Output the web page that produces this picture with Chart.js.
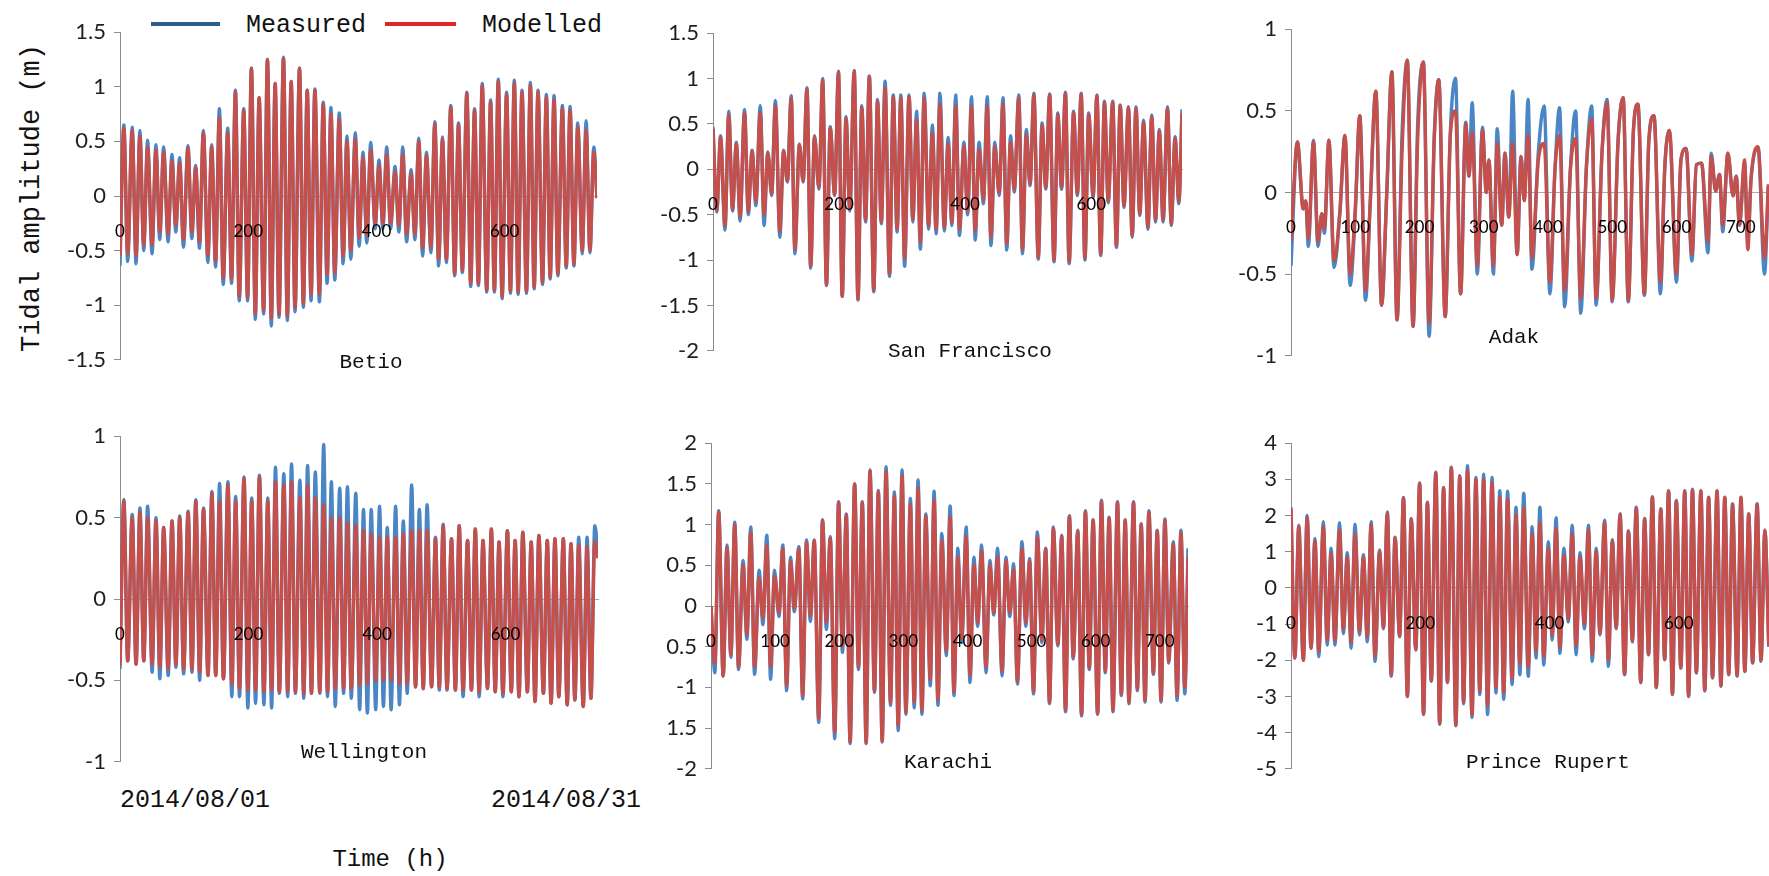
<!DOCTYPE html>
<html>
<head>
<meta charset="utf-8">
<title>Tidal amplitude, measured vs modelled</title>
<script src="https://cdn.jsdelivr.net/npm/chart.js@4.4.1/dist/chart.umd.min.js"></script>
<style>
  html, body { margin: 0; padding: 0; background: #fff; }
  body { width: 1769px; height: 876px; position: relative; overflow: hidden; }
  canvas { position: absolute; }
  .txt { position: absolute; font-family: 'Liberation Mono', 'DejaVu Sans Mono', monospace; color: #111;
         white-space: nowrap; line-height: 1; transform: translate(-50%, -50%); }
  .key { position: absolute; height: 4px; }
</style>
</head>
<body>

<div class="key" style="left:151px; top:22px; width:69px; background:#2E5C8E;"></div>
<div class="txt" style="left:306px; top:25px; font-size:25px;">Measured</div>
<div class="key" style="left:385px; top:22px; width:71px; background:#E0262B;"></div>
<div class="txt" style="left:542px; top:25px; font-size:25px;">Modelled</div>

<div class="txt" style="left:32px; top:198px; font-size:27px; transform:translate(-50%,-50%) rotate(-90deg);">Tidal amplitude (m)</div>

<div class="txt" style="left:195px; top:800px; font-size:25px;">2014/08/01</div>
<div class="txt" style="left:566px; top:800px; font-size:25px;">2014/08/31</div>
<div class="txt" style="left:390px; top:860px; font-size:24px;">Time (h)</div>

<script>
// Hours of successive high / low waters (shared by the semidiurnal stations)
const tideHours = [
  0,6,12,19,25,31,37,43,50,56,
  62,68,75,81,87,93,99,106,112,118,
  124,130,137,143,149,155,161,168,174,180,
  186,193,199,205,211,217,224,230,236,242,
  248,255,261,267,273,280,286,292,298,304,
  311,317,323,329,335,342,348,354,360,367,
  373,379,385,391,398,404,410,416,422,429,
  435,441,447,454,460,466,472,478,485,491,
  497,503,509,516,522,528,534,541,547,553,
  559,565,572,578,584,590,596,603,609,615,
  621,627,634,640,646,652,659,665,671,677,
  683,690,696,702,708,714,721,727,733,739,
  744
];

// Betio (m)
const betioMeasured = [
  -0.64,0.65, -0.6,0.63, -0.62,0.6, -0.5,0.51, -0.53,0.47, -0.4,0.45, -0.42,0.38, -0.33,0.35, -0.47,0.46, -0.39,0.28,
  -0.48,0.6, -0.61,0.47, -0.65,0.8, -0.81,0.62, -0.8,0.97, -0.96,0.8, -0.96,1.17, -1.13,0.9, -1.08,1.25, -1.19,1.03,
  -1.11,1.27, -1.14,1.05, -1.06,1.17, -1.02,0.97, -0.96,0.98, -0.97,0.86, -0.8,0.81, -0.77,0.76, -0.62,0.55, -0.58,0.58,
  -0.46,0.4, -0.43,0.49, -0.3,0.33, -0.3,0.45, -0.3,0.27, -0.33,0.45, -0.42,0.24, -0.4,0.53, -0.55,0.4, -0.52,0.68,
  -0.64,0.54, -0.61,0.83, -0.73,0.67, -0.7,0.95, -0.83,0.8, -0.82,1.03, -0.88,0.88, -0.88,1.07, -0.94,0.95, -0.89,1.06,
  -0.9,0.97, -0.89,1.04, -0.85,0.97, -0.81,0.93, -0.76,0.92, -0.73,0.83, -0.66,0.82, -0.64,0.67, -0.53,0.69, -0.52,0.45,
  -0.02
];
const betioModelled = [
  -0.55,0.62, -0.53,0.6, -0.55,0.55, -0.45,0.45, -0.45,0.42, -0.33,0.4, -0.35,0.32, -0.27,0.3, -0.4,0.44, -0.33,0.26,
  -0.42,0.58, -0.55,0.45, -0.6,0.72, -0.75,0.58, -0.76,0.95, -0.92,0.78, -0.93,1.17, -1.08,0.9, -1.05,1.25, -1.12,1.03,
  -1.08,1.26, -1.1,1.05, -1.02,1.17, -0.98,0.97, -0.9,0.97, -0.9,0.84, -0.72,0.75, -0.7,0.7, -0.55,0.5, -0.5,0.52,
  -0.38,0.35, -0.36,0.42, -0.25,0.28, -0.25,0.38, -0.25,0.22, -0.27,0.38, -0.35,0.2, -0.35,0.5, -0.48,0.37, -0.47,0.66,
  -0.58,0.52, -0.58,0.81, -0.71,0.65, -0.68,0.94, -0.8,0.78, -0.8,1.01, -0.86,0.86, -0.86,1.05, -0.92,0.93, -0.87,1.03,
  -0.88,0.95, -0.87,1.01, -0.83,0.95, -0.79,0.9, -0.74,0.88, -0.71,0.8, -0.64,0.78, -0.62,0.63, -0.5,0.6, -0.5,0.4,
  -0.02
];

// San Francisco (m)
const sanFranciscoMeasured = [
  0.47,-0.47,0.37,-0.67,0.64,-0.46,0.3,-0.57,0.66,-0.5,
  0.21,-0.4,0.7,-0.62,0.19,-0.29,0.76,-0.75,0.21,-0.14,
  0.81,-0.93,0.28,-0.14,0.9,-1.09,0.37,-0.22,1.0,-1.28,
  0.47,-0.29,1.08,-1.4,0.58,-0.46,1.09,-1.44,0.7,-0.58,
  1.03,-1.35,0.77,-0.6,0.97,-1.18,0.82,-0.69,0.82,-1.07,
  0.82,-0.58,0.64,-0.88,0.84,-0.66,0.49,-0.71,0.84,-0.68,
  0.35,-0.62,0.82,-0.73,0.3,-0.5,0.8,-0.78,0.3,-0.38,
  0.8,-0.84,0.3,-0.29,0.79,-0.89,0.37,-0.25,0.82,-0.93,
  0.44,-0.18,0.84,-0.99,0.51,-0.22,0.83,-1.02,0.62,-0.22,
  0.85,-1.04,0.64,-0.29,0.84,-1.0,0.62,-0.31,0.82,-0.95,
  0.75,-0.37,0.75,-0.86,0.71,-0.42,0.69,-0.75,0.69,-0.51,
  0.54,-0.66,0.6,-0.58,0.44,-0.58,0.69,-0.62,0.36,-0.38,
  0.66
];
const sanFranciscoModelled = [
  0.45,-0.45,0.35,-0.62,0.6,-0.44,0.28,-0.52,0.62,-0.46,
  0.2,-0.35,0.62,-0.5,0.18,-0.27,0.7,-0.68,0.2,-0.13,
  0.78,-0.88,0.27,-0.13,0.88,-1.07,0.36,-0.2,0.98,-1.27,
  0.45,-0.28,1.07,-1.4,0.56,-0.44,1.08,-1.43,0.68,-0.56,
  1.02,-1.33,0.75,-0.58,0.9,-1.15,0.8,-0.66,0.78,-0.98,
  0.8,-0.55,0.55,-0.8,0.78,-0.62,0.4,-0.66,0.72,-0.64,
  0.28,-0.58,0.7,-0.66,0.25,-0.46,0.7,-0.68,0.22,-0.34,
  0.7,-0.75,0.25,-0.26,0.72,-0.82,0.3,-0.22,0.78,-0.88,
  0.38,-0.16,0.82,-0.97,0.48,-0.2,0.82,-1.0,0.6,-0.2,
  0.84,-1.02,0.62,-0.27,0.83,-0.98,0.6,-0.29,0.81,-0.93,
  0.73,-0.35,0.74,-0.84,0.7,-0.4,0.68,-0.73,0.67,-0.49,
  0.52,-0.64,0.58,-0.56,0.42,-0.56,0.67,-0.6,0.34,-0.35,
  0.62
];

// Adak (m) - mixed, mainly diurnal, so its turning points have their own hours
const adakHours = [
  0,10,19,23,27,35,42,48,52,59,
  67,76,84,92,100,107,116,123,132,141,
  149,157,165,173,181,190,197,206,215,223,
  230,240,248,256,264,272,277,282,290,298,
  304,308,315,321,328,333,339,345,352,358,
  363,369,375,385,394,403,411,418,426,435,
  443,451,460,468,475,484,492,500,509,517,
  525,533,540,550,557,565,575,582,589,600,
  607,615,624,631,639,649,654,661,667,672,
  680,688,693,698,706,711,716,727,737,743
];
const adakMeasured = [
  -0.45,0.31,-0.1,-0.06,-0.33,0.32,-0.33,-0.13,-0.25,0.32,
  -0.46,-0.13,0.35,-0.57,-0.13,0.47,-0.66,-0.1,0.62,-0.69,
  -0.02,0.74,-0.78,0.38,0.81,-0.82,0.4,0.8,-0.88,0.35,
  0.69,-0.76,0.37,0.7,-0.62,0.43,0.1,0.55,-0.5,0.4,
  0.0,0.2,-0.5,0.39,-0.2,0.24,-0.15,0.62,-0.38,0.22,
  -0.05,0.57,-0.47,0.25,0.53,-0.62,0.15,0.52,-0.7,0.15,
  0.5,-0.74,0.17,0.53,-0.69,0.24,0.57,-0.67,0.31,0.58,
  -0.67,0.38,0.54,-0.63,0.32,0.47,-0.62,0.17,0.38,-0.55,
  0.2,0.27,-0.42,0.17,0.18,-0.37,0.24,0.01,0.11,-0.24,
  0.24,-0.02,0.1,-0.2,0.17,-0.3,0.08,0.27,-0.5,0.04
];
const adakModelled = [
  -0.3,0.31,-0.1,-0.05,-0.28,0.31,-0.3,-0.13,-0.22,0.32,
  -0.42,-0.12,0.35,-0.5,-0.1,0.47,-0.6,-0.08,0.62,-0.69,
  0.0,0.74,-0.78,0.27,0.81,-0.82,0.31,0.8,-0.8,0.33,
  0.69,-0.76,0.35,0.5,-0.62,0.42,0.1,0.37,-0.45,0.38,
  0.0,0.2,-0.45,0.3,-0.2,0.24,-0.15,0.3,-0.38,0.22,
  -0.05,0.35,-0.4,0.2,0.3,-0.55,0.15,0.35,-0.6,0.15,
  0.33,-0.65,0.17,0.45,-0.65,0.24,0.55,-0.66,0.31,0.58,
  -0.66,0.38,0.54,-0.62,0.32,0.47,-0.55,0.17,0.38,-0.5,
  0.2,0.27,-0.38,0.17,0.18,-0.3,0.22,0.01,0.11,-0.2,
  0.24,-0.02,0.1,-0.2,0.2,-0.35,0.08,0.28,-0.4,0.05
];

// Wellington (m)
const wellingtonMeasured = [
  -0.43,0.61, -0.38,0.52, -0.4,0.56, -0.38,0.57, -0.45,0.5, -0.49,0.44, -0.47,0.48, -0.42,0.51, -0.46,0.54, -0.45,0.61,
  -0.5,0.56, -0.47,0.66, -0.47,0.71, -0.49,0.72, -0.6,0.63, -0.6,0.75, -0.67,0.62, -0.64,0.76, -0.65,0.62, -0.67,0.81,
  -0.58,0.77, -0.6,0.83, -0.58,0.73, -0.61,0.82, -0.58,0.78, -0.58,0.95, -0.6,0.72, -0.66,0.68, -0.58,0.69, -0.61,0.65,
  -0.68,0.55, -0.7,0.55, -0.68,0.57, -0.66,0.44, -0.68,0.57, -0.65,0.48, -0.58,0.7, -0.54,0.55, -0.55,0.58, -0.54,0.38,
  -0.56,0.46, -0.56,0.37, -0.56,0.45, -0.6,0.36, -0.56,0.43, -0.6,0.36, -0.55,0.43, -0.57,0.35, -0.6,0.42, -0.57,0.36,
  -0.6,0.41, -0.57,0.35, -0.63,0.39, -0.58,0.36, -0.64,0.37, -0.6,0.37, -0.65,0.34, -0.62,0.38, -0.66,0.38, -0.61,0.45,
  0.3
];
const wellingtonModelled = [
  -0.41,0.6, -0.38,0.5, -0.4,0.53, -0.38,0.5, -0.4,0.48, -0.42,0.44, -0.43,0.48, -0.4,0.5, -0.43,0.53, -0.43,0.6,
  -0.45,0.55, -0.47,0.65, -0.47,0.6, -0.49,0.7, -0.52,0.6, -0.55,0.74, -0.56,0.6, -0.56,0.75, -0.57,0.6, -0.56,0.72,
  -0.57,0.7, -0.57,0.72, -0.57,0.62, -0.58,0.7, -0.58,0.62, -0.57,0.58, -0.57,0.5, -0.55,0.5, -0.55,0.47, -0.55,0.45,
  -0.53,0.42, -0.52,0.4, -0.5,0.38, -0.5,0.38, -0.5,0.38, -0.52,0.4, -0.52,0.42, -0.54,0.42, -0.55,0.42, -0.54,0.37,
  -0.54,0.45, -0.55,0.37, -0.56,0.45, -0.56,0.36, -0.56,0.43, -0.57,0.36, -0.55,0.43, -0.57,0.35, -0.58,0.42, -0.57,0.36,
  -0.6,0.41, -0.57,0.35, -0.63,0.39, -0.58,0.36, -0.64,0.37, -0.6,0.37, -0.65,0.34, -0.62,0.33, -0.66,0.32, -0.61,0.35,
  0.25
];

// Karachi (m)
const karachiMeasured = [
  0.0,
  -0.82,1.17, -0.86,0.75, -0.63,1.03, -0.78,0.56, -0.41,0.97, -0.84,0.44, -0.23,0.87, -0.9,0.44, -0.13,0.75, -1.04,0.6,
  -0.07,0.73, -1.14,0.81, -0.19,0.81, -1.43,1.06, -0.29,0.85, -1.63,1.28, -0.57,1.13, -1.69,1.5, -0.78,1.28, -1.69,1.67,
  -1.06,1.42, -1.67,1.71, -1.22,1.4, -1.53,1.67, -1.33,1.32, -1.25,1.55, -1.33,1.13, -0.98,1.41, -1.22,0.89, -0.61,1.23,
  -1.1,0.71, -0.45,0.97, -0.94,0.6, -0.25,0.75, -0.82,0.56, -0.11,0.71, -0.86,0.6, -0.13,0.52, -0.96,0.79, -0.25,0.58,
  -1.08,0.91, -0.45,0.71, -1.2,0.97, -0.49,0.87, -1.3,1.11, -0.65,0.93, -1.35,1.17, -0.78,1.06, -1.33,1.3, -0.82,1.09,
  -1.3,1.28, -1.1,1.06, -1.2,1.28, -1.04,1.01, -1.18,1.17, -0.84,0.93, -1.18,1.07, -0.7,0.79, -1.16,0.93, -1.08,0.71
];
const karachiModelled = [
  0.0,
  -0.7,1.15, -0.86,0.72, -0.6,1.0, -0.75,0.5, -0.35,0.9, -0.75,0.35, -0.15,0.75, -0.75,0.37, -0.08,0.7, -0.98,0.55,
  -0.03,0.7, -1.1,0.78, -0.12,0.8, -1.38,1.05, -0.2,0.83, -1.55,1.27, -0.5,1.12, -1.67,1.5, -0.75,1.27, -1.68,1.66,
  -1.04,1.4, -1.66,1.65, -1.18,1.35, -1.47,1.6, -1.3,1.25, -1.18,1.45, -1.28,1.1, -0.9,1.3, -1.15,0.8, -0.55,1.1,
  -1.05,0.6, -0.4,0.85, -0.85,0.5, -0.2,0.68, -0.75,0.5, -0.08,0.6, -0.8,0.55, -0.08,0.45, -0.93,0.7, -0.2,0.55,
  -1.05,0.85, -0.42,0.7, -1.18,0.95, -0.47,0.85, -1.28,1.1, -0.63,0.92, -1.33,1.16, -0.76,1.05, -1.32,1.28, -0.8,1.08,
  -1.28,1.27, -1.08,1.05, -1.18,1.27, -1.02,1.0, -1.16,1.15, -0.82,0.92, -1.16,1.05, -0.68,0.76, -1.1,0.9, -1.0,0.6
];

// Prince Rupert (m)
const princeRupertMeasured = [
  2.23,-1.94, 1.73,-2.0, 2.0,-1.67, 1.37,-1.9, 1.83,-1.58, 1.1,-1.58, 1.8,-1.26, 0.97,-1.67, 1.76,-1.3, 0.92,-1.49,
  1.83,-2.03, 1.05,-1.13, 2.1,-2.44, 1.4,-1.35, 2.5,-3.0, 1.92,-1.72, 2.9,-3.5, 2.37,-2.58, 3.2,-3.77, 2.78,-2.62,
  3.34,-3.81, 3.1,-3.2, 3.38,-3.58, 3.05,-2.95, 3.14,-3.5, 3.05,-2.9, 2.69,-3.08, 2.67,-2.67, 2.23,-2.4, 2.62,-2.44,
  1.69,-1.94, 2.23,-2.13, 1.28,-1.44, 1.94,-1.81, 1.1,-0.94, 1.73,-1.85, 0.97,-1.13, 1.73,-2.03, 1.1,-1.3, 1.87,-2.17,
  1.33,-1.13, 2.05,-2.4, 1.58,-1.49, 2.23,-2.62, 1.92,-1.85, 2.52,-2.76, 2.19,-1.99, 2.69,-2.95, 2.42,-2.22, 2.69,-3.0,
  2.73,-2.35, 2.69,-2.85, 2.51,-2.49, 2.69,-2.72, 2.51,-2.4, 2.33,-2.44, 2.51,-2.31, 2.05,-2.08, 2.33,-2.03, 1.6,-1.63
];
const princeRupertModelled = [
  2.2,-1.94, 1.7,-2.0, 1.95,-1.67, 1.3,-1.75, 1.7,-1.45, 0.95,-1.45, 1.6,-1.15, 0.85,-1.5, 1.5,-1.2, 0.85,-1.35,
  1.75,-1.9, 1.0,-1.1, 2.05,-2.4, 1.38,-1.33, 2.48,-3.0, 1.9,-1.7, 2.88,-3.48, 2.35,-2.56, 3.18,-3.75, 2.76,-2.6,
  3.32,-3.8, 3.08,-3.15, 3.25,-3.5, 3.0,-2.85, 3.0,-3.25, 2.9,-2.75, 2.5,-2.9, 2.45,-2.5, 2.0,-2.1, 2.2,-2.2,
  1.5,-1.75, 1.8,-1.9, 1.1,-1.3, 1.65,-1.65, 0.9,-0.85, 1.5,-1.6, 0.85,-1.0, 1.6,-1.85, 1.0,-1.25, 1.8,-2.0,
  1.3,-1.1, 2.03,-2.38, 1.56,-1.47, 2.2,-2.6, 1.9,-1.83, 2.5,-2.74, 2.17,-1.97, 2.67,-2.93, 2.4,-2.2, 2.67,-2.98,
  2.7,-2.33, 2.67,-2.83, 2.5,-2.47, 2.67,-2.7, 2.5,-2.38, 2.3,-2.42, 2.5,-2.3, 2.03,-2.06, 2.3,-2.0, 1.58,-1.6
];

// Axis ticks and their printed labels (ascending)
const hourTicksWide = [0, 200, 400, 600];
const hourTicksFine = [0, 100, 200, 300, 400, 500, 600, 700];
const betioYTicks = [-1.5, -1, -0.5, 0, 0.5, 1, 1.5];
const betioYLabels = ['-1.5', '-1', '-0.5', '0', '0.5', '1', '1.5'];
const sanFranciscoYTicks = [-2, -1.5, -1, -0.5, 0, 0.5, 1, 1.5];
const sanFranciscoYLabels = ['-2', '-1.5', '-1', '-0.5', '0', '0.5', '1', '1.5'];
const adakYTicks = [-1, -0.5, 0, 0.5, 1];
const adakYLabels = ['-1', '-0.5', '0', '0.5', '1'];
const wellingtonYTicks = [-1, -0.5, 0, 0.5, 1];
const wellingtonYLabels = ['-1', '-0.5', '0', '0.5', '1'];
const karachiYTicks = [-2, -1.5, -1, -0.5, 0, 0.5, 1, 1.5, 2];
const karachiYLabels = ['-2', '1.5', '-1', '0.5', '0', '0.5', '1', '1.5', '2'];
const princeRupertYTicks = [-5, -4, -3, -2, -1, 0, 1, 2, 3, 4];
const princeRupertYLabels = ['-5', '-4', '-3', '-2', '-1', '0', '1', '2', '3', '4'];
const stationNames = ['Betio', 'San Francisco', 'Adak', 'Wellington', 'Karachi', 'Prince Rupert'];

// Page layout of each panel: x of hour 0, px per hour, y of top/bottom tick, name position
const layout = [
  { x0: 120,  pph: 0.641,  top: 30.7,  bottom: 360.7, nameX: 371,  nameY: 362 },
  { x0: 713,  pph: 0.630,  top: 32.0,  bottom: 352.4, nameX: 970,  nameY: 351 },
  { x0: 1291, pph: 0.643,  top: 28.0,  bottom: 357.0, nameX: 1514, nameY: 337 },
  { x0: 120,  pph: 0.642,  top: 434.7, bottom: 763.0, nameX: 364,  nameY: 752 },
  { x0: 711,  pph: 0.641,  top: 442.3, bottom: 770.0, nameX: 948,  nameY: 762 },
  { x0: 1291, pph: 0.6465, top: 442.3, bottom: 770.5, nameX: 1548, nameY: 762 }
];

const series = [
  { hours: tideHours, measured: betioMeasured, modelled: betioModelled, yTicks: betioYTicks, yLabels: betioYLabels, xTicks: hourTicksWide },
  { hours: tideHours, measured: sanFranciscoMeasured, modelled: sanFranciscoModelled, yTicks: sanFranciscoYTicks, yLabels: sanFranciscoYLabels, xTicks: hourTicksWide },
  { hours: adakHours, measured: adakMeasured, modelled: adakModelled, yTicks: adakYTicks, yLabels: adakYLabels, xTicks: hourTicksFine },
  { hours: tideHours, measured: wellingtonMeasured, modelled: wellingtonModelled, yTicks: wellingtonYTicks, yLabels: wellingtonYLabels, xTicks: hourTicksWide },
  { hours: tideHours, measured: karachiMeasured, modelled: karachiModelled, yTicks: karachiYTicks, yLabels: karachiYLabels, xTicks: hourTicksFine },
  { hours: tideHours, measured: princeRupertMeasured, modelled: princeRupertModelled, yTicks: princeRupertYTicks, yLabels: princeRupertYLabels, xTicks: hourTicksWide }
];

const HOURS_MAX = 744;
const PAD_L = 90, PAD_T = 20, PAD_B = 20, PAD_R = 4;

const toPoints = (hours, values) => values.map((v, i) => ({ x: hours[i], y: v }));

series.forEach((s, k) => {
  const L = layout[k];
  const plotW = HOURS_MAX * L.pph;
  const plotH = L.bottom - L.top;
  const cv = document.createElement('canvas');
  const w = Math.round(PAD_L + plotW + PAD_R);
  const h = Math.round(plotH + PAD_T + PAD_B);
  cv.width = w; cv.height = h;
  cv.style.width = w + 'px'; cv.style.height = h + 'px';
  cv.style.left = (L.x0 - PAD_L) + 'px';
  cv.style.top = (L.top - PAD_T) + 'px';
  document.body.appendChild(cv);

  new Chart(cv, {
    type: 'line',
    data: {
      datasets: [
        { label: 'Measured', data: toPoints(s.hours, s.measured), borderColor: '#4A85C6',
          borderWidth: 3.4, pointRadius: 0, cubicInterpolationMode: 'monotone', order: 2 },
        { label: 'Modelled', data: toPoints(s.hours, s.modelled), borderColor: '#C44F4B',
          borderWidth: 3.4, pointRadius: 0, cubicInterpolationMode: 'monotone', order: 1 }
      ]
    },
    options: {
      responsive: false,
      animation: false,
      events: [],
      layout: { padding: { left: 0, top: PAD_T, right: PAD_R, bottom: PAD_B } },
      plugins: { legend: { display: false }, tooltip: { enabled: false } },
      scales: {
        x: {
          type: 'linear', min: 0, max: HOURS_MAX, position: { y: 0 },
          grid: { display: false },
          border: { display: true, color: '#B9A59F', width: 1 },
          ticks: { z: 1, font: { family: 'Lato', size: 17 }, color: '#000', padding: 17, maxRotation: 0, autoSkip: false },
          afterBuildTicks: sc => { sc.ticks = s.xTicks.map(v => ({ value: v })); }
        },
        y: {
          type: 'linear', min: s.yTicks[0], max: s.yTicks[s.yTicks.length - 1],
          grid: { display: true, drawOnChartArea: false, drawTicks: true, tickLength: 6, color: '#8C8C8C' },
          border: { display: true, color: '#8C8C8C', width: 1 },
          ticks: { font: { family: 'Lato', size: 22 }, color: '#1f1f1f', padding: 8,
                   callback: (v, i) => s.yLabels[i] },
          afterBuildTicks: sc => { sc.ticks = s.yTicks.map(v => ({ value: v })); },
          afterFit: sc => { sc.width = PAD_L; }
        }
      }
    }
  });

  const name = document.createElement('div');
  name.className = 'txt';
  name.style.left = L.nameX + 'px';
  name.style.top = L.nameY + 'px';
  name.style.fontSize = '21px';
  name.textContent = stationNames[k];
  document.body.appendChild(name);
});
</script>
</body>
</html>
